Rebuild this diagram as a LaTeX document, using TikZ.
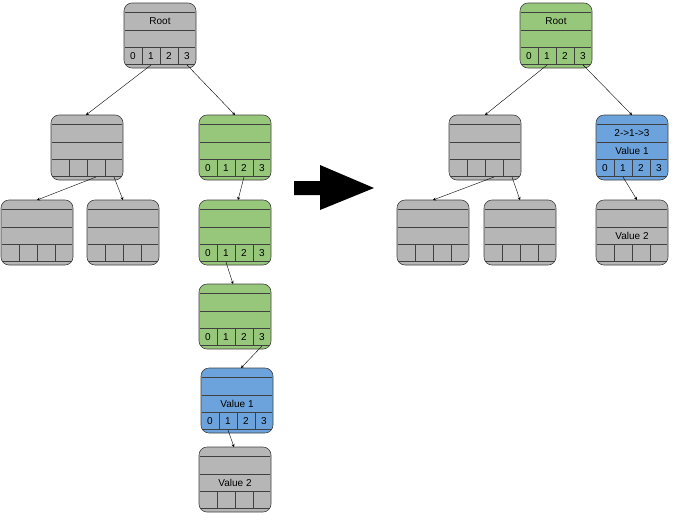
\documentclass[tikz,border=0pt]{standalone}
\usepackage{fontspec}
\usetikzlibrary{arrows.meta}
\setmainfont{Liberation Sans}
\definecolor{gfill}{RGB}{182,182,182}
\definecolor{grfill}{RGB}{151,199,122}
\definecolor{bfill}{RGB}{108,163,220}
\tikzset{conn/.style={-{Stealth[length=3pt,width=3pt]},thin},
  box/.style={draw=black!75,rounded corners=8pt,line width=0.6pt},
  lbl/.style={font=\fontsize{10}{12}\selectfont,inner sep=0}}
\newcommand\tnode[7]{% name x y fill title row2 cells(1/0)
  \draw[box,fill=#4] (#2,#3) rectangle ++(72,65);
  \draw[black!75] (#2+1,#3+9) -- ++(70,0) (#2+1,#3+27) -- ++(70,0) (#2+1,#3+44) -- ++(70,0) (#2+1,#3+61) -- ++(70,0);
  \foreach \i in {18,36,54} \draw[black!75] (#2+\i,#3+44) -- ++(0,17);
  \node[lbl] (#1-t) at (#2+36,#3+18) {#5};
  \node[lbl] (#1-v) at (#2+36,#3+36) {#6};
  \foreach \i in {0,1,2,3} {
    \coordinate (#1-c\i) at (#2+9+18*\i,#3+62);
    \ifnum#7=1 \node[lbl] at (#2+9+18*\i,#3+53) {\i};\fi }
  \coordinate (#1-top) at (#2+36,#3);
}
\begin{document}
\begin{tikzpicture}[x=1pt,y=-1pt]
\useasboundingbox (0,0) rectangle (700,525);
\tnode{r}{124}{3}{gfill}{Root}{}{1}
\tnode{g1}{51}{115}{gfill}{}{}{0}
\tnode{a}{199}{115}{grfill}{}{}{1}
\tnode{l1}{1}{200}{gfill}{}{}{0}
\tnode{l2}{87}{200}{gfill}{}{}{0}
\tnode{b}{199}{200}{grfill}{}{}{1}
\tnode{c}{199}{284}{grfill}{}{}{1}
\tnode{d}{201}{368}{bfill}{}{Value 1}{1}
\tnode{e}{199}{447}{gfill}{}{Value 2}{0}
\draw[conn] (r-c1) -- ([xshift=-1]g1-top);
\draw[conn] (r-c3) -- ([xshift=0]a-top);
\draw[conn] (g1-c2) -- (l1-top);
\draw[conn] (g1-c3) -- (l2-top);
\draw[conn] (a-c2) -- ([xshift=3]b-top);
\draw[conn] (b-c1) -- ([xshift=-2]c-top);
\draw[conn] (c-c3) -- ([xshift=4]d-top);
\draw[conn] (d-c1) -- ([xshift=-1]e-top);
% right
\tnode{R}{520}{3}{grfill}{Root}{}{1}
\tnode{G}{449}{115}{gfill}{}{}{0}
\tnode{B}{596}{115}{bfill}{2->1->3}{Value 1}{1}
\tnode{L1}{397}{200}{gfill}{}{}{0}
\tnode{L2}{484}{200}{gfill}{}{}{0}
\tnode{E}{596}{200}{gfill}{}{Value 2}{0}
\draw[conn] (R-c1) -- (G-top);
\draw[conn] (R-c3) -- (B-top);
\draw[conn] (G-c2) -- (L1-top);
\draw[conn] (G-c3) -- (L2-top);
\draw[conn] (B-c1) -- ([xshift=5]E-top);
\fill (294,181) -- (320,181) -- (320,165) -- (374,188) -- (320,210) -- (320,195) -- (294,195) -- cycle;
\end{tikzpicture}
\end{document}
